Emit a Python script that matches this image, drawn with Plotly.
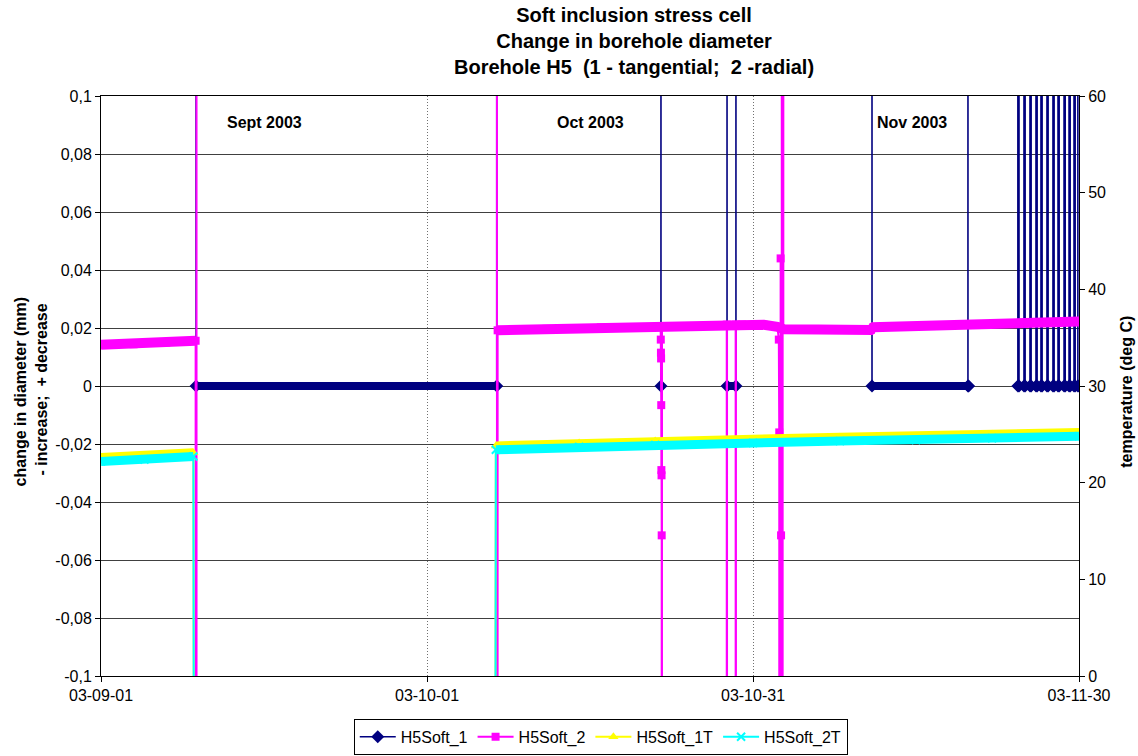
import pandas as pd
import plotly.graph_objects as go

# ---------------- axis ticks ----------------
X_TICKS = ["2003-09-01", "2003-10-01", "2003-10-31", "2003-11-30"]
X_TICK_TEXT = ["03-09-01", "03-10-01", "03-10-31", "03-11-30"]
Y_TICKS = [-0.1, -0.08, -0.06, -0.04, -0.02, 0, 0.02, 0.04, 0.06, 0.08, 0.1]
Y_TICK_TEXT = ["-0,1", "-0,08", "-0,06", "-0,04", "-0,02", "0",
               "0,02", "0,04", "0,06", "0,08", "0,1"]
Y2_TICKS = [0, 10, 20, 30, 40, 50, 60]

SERIES_NAMES = ["H5Soft_1", "H5Soft_2", "H5Soft_1T", "H5Soft_2T"]
MONTH_LABELS = ["Sept 2003", "Oct 2003", "Nov 2003"]
MONTH_LABEL_X = ["2003-09-16", "2003-10-16", "2003-11-14 16:00"]

# ---------------- H5Soft_1 (tangential, mm) ----------------
# continuous stretches of readings (None = break)
S1_BAND_T = ["2003-09-09 18:00", "2003-10-07 10:00", None,
             "2003-10-28 14:40", "2003-10-29 10:20", None,
             "2003-11-10 22:50", "2003-11-19 18:45", None,
             "2003-11-24 09:00", "2003-11-24 11:30", None,
             "2003-11-24 22:30", "2003-11-25 01:00", None,
             "2003-11-25 11:45", "2003-11-25 14:15", None,
             "2003-11-26 01:00", "2003-11-26 03:30", None,
             "2003-11-26 12:00", "2003-11-26 14:30", None,
             "2003-11-27 01:15", "2003-11-27 03:45", None,
             "2003-11-27 14:30", "2003-11-27 17:00", None,
             "2003-11-28 01:40", "2003-11-28 04:10", None,
             "2003-11-28 15:00", "2003-11-28 17:30", None,
             "2003-11-29 02:00", "2003-11-29 04:30", None,
             "2003-11-29 13:00", "2003-11-29 15:30", None,
             "2003-11-29 21:30", "2003-11-30 00:00"]
S1_BAND_V = [0, 0, None,
             0, 0, None,
             0, 0, None,
             0, 0, None, 0, 0, None, 0, 0, None, 0, 0, None, 0, 0, None,
             0, 0, None, 0, 0, None, 0, 0, None, 0, 0, None, 0, 0, None,
             0, 0, None, 0, 0]
# isolated / off-scale readings
S1_EVENT_T = ["2003-09-01 00:00", "2003-09-09 17:00", "2003-10-07 11:00",
              "2003-10-22 11:45", "2003-10-22 12:45", "2003-10-22 13:45",
              "2003-10-28 13:40", "2003-10-29 11:20",
              "2003-11-10 21:50", "2003-11-19 19:45", "2003-11-19 20:15", "2003-11-19 20:45",
              "2003-11-24 08:00", "2003-11-24 12:30",
              "2003-11-24 21:30", "2003-11-25 02:00",
              "2003-11-25 10:45", "2003-11-25 15:15",
              "2003-11-26 00:00", "2003-11-26 04:30",
              "2003-11-26 11:00", "2003-11-26 15:30",
              "2003-11-27 00:15", "2003-11-27 04:45",
              "2003-11-27 13:30", "2003-11-27 18:00",
              "2003-11-28 00:40", "2003-11-28 05:10",
              "2003-11-28 14:00", "2003-11-28 18:30",
              "2003-11-29 01:00", "2003-11-29 05:30",
              "2003-11-29 12:00", "2003-11-29 16:30",
              "2003-11-29 20:30"]
S1_EVENT_V = [9.99, 9.99, 9.99,
              9.99, 0, 9.99,
              9.99, 9.99,
              9.99, 9.99, 0.0, 9.99,
              9.99, 9.99, 9.99, 9.99, 9.99, 9.99, 9.99, 9.99, 9.99, 9.99,
              9.99, 9.99, 9.99, 9.99, 9.99, 9.99, 9.99, 9.99, 9.99, 9.99,
              9.99, 9.99, 9.99]

# ---------------- H5Soft_2 (radial, mm) ----------------
S2_BAND_T = ["2003-09-01 00:00", "2003-09-04 00:00", "2003-09-07 00:00", "2003-09-09 17:00", None,
             "2003-10-07 12:00", "2003-10-12 00:00", "2003-10-17 00:00", "2003-10-22 12:00",
             "2003-10-27 00:00", "2003-10-30 00:00", "2003-11-01 00:00", "2003-11-02 06:00",
             "2003-11-02 20:00", "2003-11-06 00:00", "2003-11-10 20:00", "2003-11-11 02:00",
             "2003-11-15 00:00", "2003-11-20 00:00", "2003-11-25 00:00", "2003-11-30 00:00"]
S2_BAND_V = [0.0142, 0.0144, 0.0150, 0.0156, None,
             0.0192, 0.0197, 0.0202, 0.0206,
             0.0210, 0.0212, 0.0211, 0.0204,
             0.0196, 0.0195, 0.0193, 0.0203,
             0.0207, 0.0212, 0.0217, 0.0222]
S2_EVENT_T = ["2003-09-09 18:30", "2003-09-09 19:30", "2003-10-07 10:00", "2003-10-07 11:00",
              "2003-10-22 12:20", "2003-10-22 12:40", "2003-10-22 13:00", "2003-10-22 13:20",
              "2003-10-22 13:40", "2003-10-22 14:00", "2003-10-22 14:20", "2003-10-22 14:40",
              "2003-10-22 15:00",
              "2003-10-28 14:00", "2003-10-28 14:20", "2003-10-28 14:40",
              "2003-10-29 09:40", "2003-10-29 10:00", "2003-10-29 10:20",
              "2003-11-02 09:00", "2003-11-02 10:00", "2003-11-02 11:00", "2003-11-02 13:00",
              "2003-11-02 14:00", "2003-11-02 15:00", "2003-11-02 16:00", "2003-11-02 17:00",
              "2003-11-02 18:00", "2003-11-02 19:00"]
S2_EVENT_V = [-9.99, 9.99, 9.99, -9.99,
              0.0160, 0.0115, 0.0095, -0.0066,
              -0.0290, -0.0308, -0.0515, -9.99,
              0.0206,
              0.0211, -9.99, 0.0211,
              0.0211, -9.99, 0.0211,
              0.0160, -0.0160, -9.99, 0.0440,
              -0.0515, -9.99, 9.99, -9.99,
              9.99, 0.0196]

# ---------------- temperatures (deg C) ----------------
T_BAND_T = ["2003-09-01 00:00", "2003-09-05 00:00", "2003-09-09 12:00", None,
            "2003-10-07 08:00", "2003-10-15 00:00", "2003-10-22 00:00", "2003-10-31 00:00",
            "2003-11-08 00:00", "2003-11-15 00:00", "2003-11-22 00:00", "2003-11-30 00:00"]
S3_BAND_V = [22.6, 22.8, 23.1, None, 23.8, 24.1, 24.3, 24.5, 24.7, 24.8, 25.0, 25.2]
S4_BAND_V = [22.2, 22.4, 22.7, None, 23.4, 23.7, 23.9, 24.1, 24.3, 24.4, 24.6, 24.8]
T_EVENT_T = ["2003-09-09 13:00", "2003-10-07 07:00"]
S3_EVENT_V = [-10.0, -10.0]
S4_EVENT_V = [-10.0, -10.0]


def record(band_t, band_v, ev_t, ev_v):
    """Full reading sequence in time order (band readings + isolated readings)."""
    rows = [(t, v) for t, v in zip(band_t, band_v) if t is not None]
    rows += list(zip(ev_t, ev_v))
    df = pd.DataFrame(rows, columns=["t", "v"])
    df["t"] = pd.to_datetime(df["t"])
    df = df.sort_values("t")
    return df["t"], df["v"]


FONT = "Arial, 'Liberation Sans', sans-serif"
NAVY, MAGENTA, YELLOW, CYAN = "#000080", "#FF00FF", "#FFFF00", "#00FFFF"

fig = go.Figure()

specs = [
    (SERIES_NAMES[0], S1_BAND_T, S1_BAND_V, S1_EVENT_T, S1_EVENT_V, NAVY, "diamond", 10, 8, 1.6, "y"),
    (SERIES_NAMES[1], S2_BAND_T, S2_BAND_V, S2_EVENT_T, S2_EVENT_V, MAGENTA, "square", 8, 10, 2, "y"),
    (SERIES_NAMES[2], T_BAND_T, S3_BAND_V, T_EVENT_T, S3_EVENT_V, YELLOW, "triangle-up", 9, 9, 2, "y2"),
    (SERIES_NAMES[3], T_BAND_T, S4_BAND_V, T_EVENT_T, S4_EVENT_V, CYAN, "x-thin", 8, 9, 2, "y2"),
]

for name, bt, bv, et, ev, col, sym, msize, bw, lw, yax in specs:
    # dense run of markers, drawn as a thick band
    fig.add_trace(go.Scatter(
        x=bt, y=bv, mode="lines", yaxis=yax, showlegend=False, hoverinfo="skip",
        line=dict(color=col, width=bw), connectgaps=False))
    tt, vv = record(bt, bv, et, ev)
    marker = dict(symbol=sym, size=msize, color=col)
    if sym == "x-thin":
        marker["line"] = dict(color=col, width=2)
    fig.add_trace(go.Scatter(
        x=tt, y=vv, mode="lines+markers", yaxis=yax, name=name,
        line=dict(color=col, width=lw), marker=marker))

annotations = []
for lab, xm in zip(MONTH_LABELS, MONTH_LABEL_X):
    annotations.append(dict(x=xm, y=0.091, xref="x", yref="y", text=f"<b>{lab}</b>",
                            showarrow=False, font=dict(family=FONT, size=16, color="black")))
annotations.append(dict(x=-0.072, y=0.49, xref="paper", yref="paper", textangle=-90,
                        text="<b>change in diameter (mm)<br> - increase;  + decrease</b>",
                        showarrow=False, xanchor="center", yanchor="middle",
                        font=dict(family=FONT, size=16, color="black")))
annotations.append(dict(x=1.049, y=0.49, xref="paper", yref="paper", textangle=-90,
                        text="<b>temperature (deg C)</b>",
                        showarrow=False, xanchor="center", yanchor="middle",
                        font=dict(family=FONT, size=16, color="black")))
annotations.append(dict(x=0.545, y=1.162, xref="paper", yref="paper",
                        text="<b>Soft inclusion stress cell<br>Change in borehole diameter<br>"
                             "Borehole H5  (1 - tangential;  2 -radial)</b>",
                        showarrow=False, xanchor="center", yanchor="top",
                        font=dict(family=FONT, size=20, color="black")))

fig.update_layout(
    width=1138, height=756,
    margin=dict(l=101, r=59, t=96, b=80, autoexpand=False),
    paper_bgcolor="white", plot_bgcolor="white",
    font=dict(family=FONT, size=16, color="black"),
    xaxis=dict(type="date", range=["2003-09-01", "2003-11-30"],
               tickvals=X_TICKS, ticktext=X_TICK_TEXT,
               showgrid=True, gridcolor="#707070", griddash="1px,2px", gridwidth=1,
               showline=True, linecolor="black", linewidth=1, mirror=True,
               ticks="outside", ticklen=5, tickcolor="black", zeroline=False,
               tickfont=dict(size=16)),
    yaxis=dict(range=[-0.1, 0.1], tickvals=Y_TICKS, ticktext=Y_TICK_TEXT,
               showgrid=True, gridcolor="#404040", gridwidth=1, zeroline=False,
               showline=True, linecolor="black", linewidth=1,
               ticks="outside", ticklen=5, tickcolor="black", tickfont=dict(size=16)),
    yaxis2=dict(range=[0, 60], tickvals=Y2_TICKS, overlaying="y", side="right",
                showgrid=False, zeroline=False, showline=True, linecolor="black",
                linewidth=1, ticks="outside", ticklen=5, tickcolor="black",
                tickfont=dict(size=16)),
    legend=dict(orientation="h", x=0.511, xanchor="center", xref="paper",
                y=0.0015, yanchor="bottom", yref="container",
                bordercolor="black", borderwidth=1, bgcolor="white",
                font=dict(family=FONT, size=16, color="black"), itemwidth=36),
    annotations=annotations,
    showlegend=True,
)

fig.write_html("out.html", config={"displayModeBar": False},
               post_script="document.body.style.margin='0';")
